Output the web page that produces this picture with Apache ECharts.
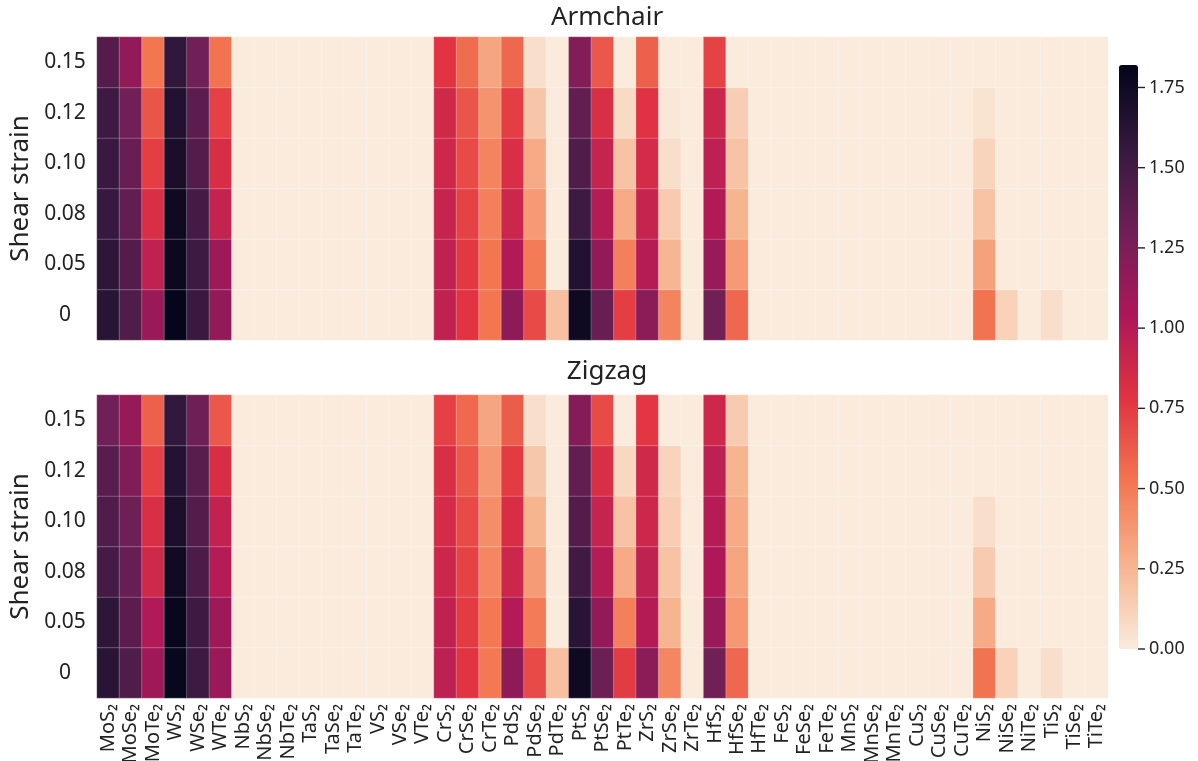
<!DOCTYPE html>
<html>
<head>
<meta charset="utf-8">
<script src="https://cdn.jsdelivr.net/npm/echarts@6/dist/echarts.min.js"></script>
<style>html,body{margin:0;padding:0;background:#fff;}#c{width:1198px;height:761px;}</style>
</head>
<body>
<div id="c"></div>
<script>
const materials = ['MoS₂','MoSe₂','MoTe₂','WS₂','WSe₂','WTe₂','NbS₂','NbSe₂','NbTe₂','TaS₂','TaSe₂','TaTe₂','VS₂','VSe₂','VTe₂','CrS₂','CrSe₂','CrTe₂','PdS₂','PdSe₂','PdTe₂','PtS₂','PtSe₂','PtTe₂','ZrS₂','ZrSe₂','ZrTe₂','HfS₂','HfSe₂','HfTe₂','FeS₂','FeSe₂','FeTe₂','MnS₂','MnSe₂','MnTe₂','CuS₂','CuSe₂','CuTe₂','NiS₂','NiSe₂','NiTe₂','TiS₂','TiSe₂','TiTe₂'];
const strainLabels = ['0','0.05','0.08','0.10','0.12','0.15'];
const colorbarTickStep = 0.25;
const colorbarTickMax = 1.75;
const colorMax = 1.82;

// Armchair, one array per strain (45 materials each)
const armchair_s0   = [1.63,1.44,1.12,1.81,1.54,1.15, 0,0,0,0,0,0,0,0,0, 0.95,0.78,0.52,1.18,0.69,0.20,1.76,1.34,0.74,1.19,0.46,0,1.30,0.58, 0,0,0,0,0,0,0,0,0,0, 0.53,0.12,0,0.06,0,0];
const armchair_s005 = [1.60,1.42,0.95,1.78,1.53,1.11, 0,0,0,0,0,0,0,0,0, 0.95,0.76,0.52,1.02,0.50,0,1.66,1.15,0.48,1.00,0.25,0,1.13,0.37, 0,0,0,0,0,0,0,0,0,0, 0.34,0,0,0,0,0];
const armchair_s008 = [1.55,1.36,0.82,1.76,1.49,0.93, 0,0,0,0,0,0,0,0,0, 0.92,0.72,0.48,0.89,0.37,0,1.53,1.00,0.30,0.92,0.15,0,1.02,0.26, 0,0,0,0,0,0,0,0,0,0, 0.19,0,0,0,0,0];
const armchair_s010 = [1.54,1.34,0.74,1.70,1.43,0.83, 0,0,0,0,0,0,0,0,0, 0.88,0.69,0.46,0.82,0.30,0,1.44,0.92,0.19,0.85,0.06,0,0.96,0.19, 0,0,0,0,0,0,0,0,0,0, 0.11,0,0,0,0,0];
const armchair_s012 = [1.52,1.30,0.65,1.66,1.39,0.73, 0,0,0,0,0,0,0,0,0, 0.87,0.65,0.40,0.74,0.18,0,1.36,0.82,0.08,0.79,0.02,0,0.89,0.14, 0,0,0,0,0,0,0,0,0,0, 0.04,0,0,0,0,0];
const armchair_s015 = [1.42,1.15,0.52,1.58,1.30,0.53, 0,0,0,0,0,0,0,0,0, 0.78,0.56,0.32,0.58,0.06,0,1.22,0.64,0,0.60,0,0,0.72,0, 0,0,0,0,0,0,0,0,0,0, 0,0,0,0,0,0];

// Zigzag
const zigzag_s0   = [1.62,1.44,1.10,1.80,1.53,1.12, 0,0,0,0,0,0,0,0,0, 0.96,0.78,0.51,1.18,0.69,0.20,1.76,1.32,0.75,1.19,0.45,0,1.30,0.58, 0,0,0,0,0,0,0,0,0,0, 0.53,0.12,0,0.06,0,0];
const zigzag_s005 = [1.60,1.39,1.02,1.79,1.52,1.11, 0,0,0,0,0,0,0,0,0, 0.95,0.75,0.51,1.01,0.50,0,1.62,1.15,0.48,1.01,0.26,0,1.13,0.38, 0,0,0,0,0,0,0,0,0,0, 0.30,0,0,0,0,0];
const zigzag_s008 = [1.49,1.34,0.87,1.75,1.46,1.00, 0,0,0,0,0,0,0,0,0, 0.89,0.72,0.45,0.89,0.36,0,1.51,1.00,0.30,0.95,0.19,0,1.03,0.32, 0,0,0,0,0,0,0,0,0,0, 0.15,0,0,0,0,0];
const zigzag_s010 = [1.44,1.31,0.82,1.69,1.43,0.94, 0,0,0,0,0,0,0,0,0, 0.85,0.69,0.42,0.83,0.26,0,1.43,0.92,0.19,0.88,0.14,0,1.00,0.30, 0,0,0,0,0,0,0,0,0,0, 0.06,0,0,0,0,0];
const zigzag_s012 = [1.40,1.23,0.73,1.65,1.40,0.83, 0,0,0,0,0,0,0,0,0, 0.82,0.64,0.38,0.75,0.17,0,1.36,0.82,0.09,0.87,0.11,0,0.96,0.26, 0,0,0,0,0,0,0,0,0,0, 0,0,0,0,0,0];
const zigzag_s015 = [1.30,1.14,0.60,1.57,1.31,0.64, 0,0,0,0,0,0,0,0,0, 0.73,0.57,0.32,0.62,0.06,0,1.21,0.69,0,0.77,0,0,0.88,0.15, 0,0,0,0,0,0,0,0,0,0, 0,0,0,0,0,0];

const armchairRows = [armchair_s0, armchair_s005, armchair_s008, armchair_s010, armchair_s012, armchair_s015];
const zigzagRows = [zigzag_s0, zigzag_s005, zigzag_s008, zigzag_s010, zigzag_s012, zigzag_s015];

function toCells(rows) {
  const out = [];
  rows.forEach((row, yi) => row.forEach((v, xi) => out.push([xi, yi, v])));
  return out;
}

// rocket_r colormap stops
const rocketR = ['#faebdd','#f6b48f','#f37651','#e13342','#ad1759','#701f57','#35193e','#03051a'];
const FONT = '"Noto Sans", "DejaVu Sans", sans-serif';
const TXT = '#222';

// colour bar geometry
const CB_TOP = 65, CB_H = 584, CB_LEFT = 1119, CB_W = 19;
const tickAxisH = CB_H * colorbarTickMax / colorMax;

const chart = echarts.init(document.getElementById('c'));

function catX(gi, showLabels) {
  return {
    type: 'category', gridIndex: gi, data: materials,
    axisLine: {show: false}, axisTick: {show: false}, splitLine: {show: false},
    axisLabel: showLabels ? {show: true, rotate: 90, interval: 0, fontSize: 20, color: TXT, fontFamily: FONT, margin: 6} : {show: false}
  };
}
function catY(gi) {
  return {
    type: 'category', gridIndex: gi, data: strainLabels,
    axisLine: {show: false}, axisTick: {show: false}, splitLine: {show: false},
    axisLabel: {fontSize: 21, color: TXT, fontFamily: FONT, align: 'center', margin: 32},
    name: 'Shear strain', nameLocation: 'middle', nameGap: 60,
    nameTextStyle: {fontSize: 26, color: TXT, fontFamily: FONT}
  };
}

chart.setOption({
  animation: false,
  backgroundColor: '#fff',
  title: [
    {text: 'Armchair', left: 602, top: 0, textAlign: 'center', textStyle: {fontSize: 26, fontWeight: 'normal', color: TXT, fontFamily: FONT}},
    {text: 'Zigzag', left: 602, top: 354, textAlign: 'center', textStyle: {fontSize: 26, fontWeight: 'normal', color: TXT, fontFamily: FONT}}
  ],
  grid: [
    {left: 97, top: 37, width: 1011, height: 303, outerBoundsMode: 'none', containLabel: false},
    {left: 97, top: 395, width: 1011, height: 303, outerBoundsMode: 'none', containLabel: false},
    {left: CB_LEFT + CB_W, top: CB_TOP + CB_H - tickAxisH, width: 40, height: tickAxisH, outerBoundsMode: 'none', containLabel: false}
  ],
  xAxis: [catX(0, false), catX(1, true),
    {type: 'category', gridIndex: 2, data: [''], show: false, axisLine: {onZero: false}}],
  yAxis: [catY(0), catY(1), {
    type: 'value', gridIndex: 2, position: 'left', min: 0, max: colorbarTickMax, interval: colorbarTickStep,
    axisLine: {show: false, onZero: false}, splitLine: {show: false}, axisTick: {show: false},
    axisLabel: {show: true, inside: true, fontSize: 18, color: TXT, fontFamily: FONT, margin: 0,
      formatter: v => '{t|}{v|' + Number(v).toFixed(2) + '}',
      rich: {
        t: {width: 7, height: 1.4, backgroundColor: TXT, verticalAlign: 'middle'},
        v: {fontSize: 18, color: TXT, fontFamily: FONT, padding: [0, 0, 0, 4], verticalAlign: 'middle'}
      }}
  }],
  visualMap: {
    type: 'continuous', min: 0, max: colorMax, seriesIndex: [0, 1],
    orient: 'vertical', left: CB_LEFT, top: CB_TOP, itemWidth: CB_W, itemHeight: CB_H,
    padding: 0, calculable: false, text: null, showLabel: false,
    inRange: {color: rocketR}
  },
  series: [
    {type: 'heatmap', xAxisIndex: 0, yAxisIndex: 0, data: toCells(armchairRows),
      itemStyle: {borderColor: 'rgba(255,255,255,0.3)', borderWidth: 0.8}, emphasis: {disabled: true}},
    {type: 'heatmap', xAxisIndex: 1, yAxisIndex: 1, data: toCells(zigzagRows),
      itemStyle: {borderColor: 'rgba(255,255,255,0.3)', borderWidth: 0.8}, emphasis: {disabled: true}}
  ]
});
</script>
</body>
</html>
